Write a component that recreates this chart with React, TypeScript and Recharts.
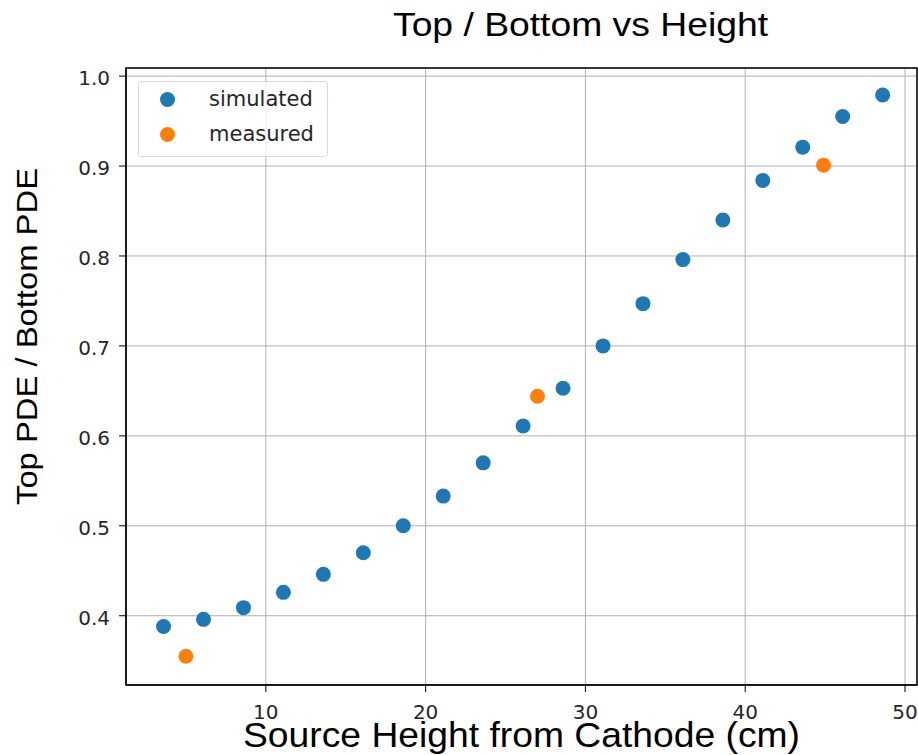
import {
  CartesianGrid,
  Legend,
  ReferenceArea,
  Scatter,
  ScatterChart,
  XAxis,
  YAxis,
} from "recharts";

const simHeights = [3.6, 6.1, 8.6, 11.1, 13.6, 16.1, 18.6, 21.1, 23.6, 26.1, 28.6, 31.1, 33.6, 36.1, 38.6, 41.1, 43.6, 46.1, 48.6];
const simRatios = [0.388, 0.396, 0.409, 0.426, 0.446, 0.47, 0.5, 0.533, 0.57, 0.611, 0.653, 0.7, 0.747, 0.796, 0.84, 0.884, 0.921, 0.955, 0.979];
const measHeights = [5.0, 27.0, 44.9];
const measRatios = [0.355, 0.644, 0.901];
const xTicks = [10, 20, 30, 40, 50];
const yTicks = [0.4, 0.5, 0.6, 0.7, 0.8, 0.9, 1.0];

const X_DOMAIN: [number, number] = [1.25, 50.75];
const Y_DOMAIN: [number, number] = [0.323, 1.009];

const simulated = simHeights.map((h, i) => ({ x: h, y: simRatios[i] }));
const measured = measHeights.map((h, i) => ({ x: h, y: measRatios[i] }));

const BLUE = "#1f77b4";
const ORANGE = "#ff7f0e";
const FONT = "'DejaVu Sans', sans-serif";
const LABEL_FONT = "'Liberation Sans', Arial, sans-serif";

const dot = (color: string) => (props: any) =>
  <circle cx={props.cx} cy={props.cy} r={7.5} fill={color} />;

// x tick labels sit low, partly under the axis title like in the original
const xTick = (props: any) => (
  <text x={props.x} y={719} textAnchor="middle" fontSize={20} fontFamily={FONT} fill="#262626">
    {props.payload.value}
  </text>
);

const yTick = (props: any) => (
  <text x={110} y={props.y + 2} textAnchor="end" dominantBaseline="central" fontSize={20} fontFamily={FONT} fill="#262626">
    {Number(props.payload.value).toFixed(1)}
  </text>
);

const legendContent = () => (
  <div
    style={{
      position: "absolute",
      left: 138,
      top: 81,
      width: 190,
      height: 76,
      boxSizing: "border-box",
      border: "1px solid #d8d8d8",
      borderRadius: 3,
      background: "rgba(255,255,255,0.8)",
      fontFamily: FONT,
      fontSize: 21,
      color: "#262626",
    }}
  >
    {[
      { name: "simulated", color: BLUE },
      { name: "measured", color: ORANGE },
    ].map((item, i) => (
      <div
        key={item.name}
        style={{ position: "absolute", left: 0, top: 5 + i * 35, height: 24, display: "flex", alignItems: "center" }}
      >
        <span
          style={{
            display: "inline-block",
            width: 15,
            height: 15,
            borderRadius: "50%",
            background: item.color,
            marginLeft: 21,
            marginRight: 34,
          }}
        />
        <span style={{ lineHeight: "24px" }}>{item.name}</span>
      </div>
    ))}
  </div>
);

export default function App() {
  return (
    <div style={{ position: "absolute", left: 0, top: 0, width: 918, height: 755, background: "#fff" }}>
      <ScatterChart width={918} height={755} margin={{ top: 68, right: 1, left: 66, bottom: 30 }}>
        <CartesianGrid stroke="#b0b0b0" strokeWidth={1} horizontal vertical />
        <XAxis
          type="number"
          dataKey="x"
          domain={X_DOMAIN}
          ticks={xTicks}
          allowDataOverflow
          height={40}
          stroke="#000"
          tickSize={7}
          tick={xTick}
        />
        <YAxis
          type="number"
          dataKey="y"
          domain={Y_DOMAIN}
          ticks={yTicks}
          allowDataOverflow
          width={60}
          stroke="#000"
          tickSize={7}
          tick={yTick}
        />
        <text
          x={580.5}
          y={36}
          textAnchor="middle"
          fontSize={34}
          textLength={375}
          lengthAdjust="spacingAndGlyphs"
          fontFamily={LABEL_FONT}
          fill="#000"
        >
          Top / Bottom vs Height
        </text>
        <text
          x={521.5}
          y={747}
          textAnchor="middle"
          fontSize={35}
          textLength={557}
          lengthAdjust="spacingAndGlyphs"
          fontFamily={LABEL_FONT}
          fill="#000"
        >
          Source Height from Cathode (cm)
        </text>
        <text
          x={37}
          y={336.5}
          transform="rotate(-90 37 336.5)"
          textAnchor="middle"
          fontSize={30}
          textLength={337}
          lengthAdjust="spacingAndGlyphs"
          fontFamily={LABEL_FONT}
          fill="#000"
        >
          Top PDE / Bottom PDE
        </text>
        <ReferenceArea
          x1={X_DOMAIN[0]}
          x2={X_DOMAIN[1]}
          y1={Y_DOMAIN[0]}
          y2={Y_DOMAIN[1]}
          fill="none"
          stroke="#000"
          strokeWidth={1.5}
          ifOverflow="visible"
        />
        <Scatter name="simulated" data={simulated} fill={BLUE} shape={dot(BLUE)} isAnimationActive={false} />
        <Scatter name="measured" data={measured} fill={ORANGE} shape={dot(ORANGE)} isAnimationActive={false} />
        <Legend content={legendContent} wrapperStyle={{ position: "absolute", left: 0, top: 0, width: 0, height: 0 }} />
      </ScatterChart>
    </div>
  );
}
